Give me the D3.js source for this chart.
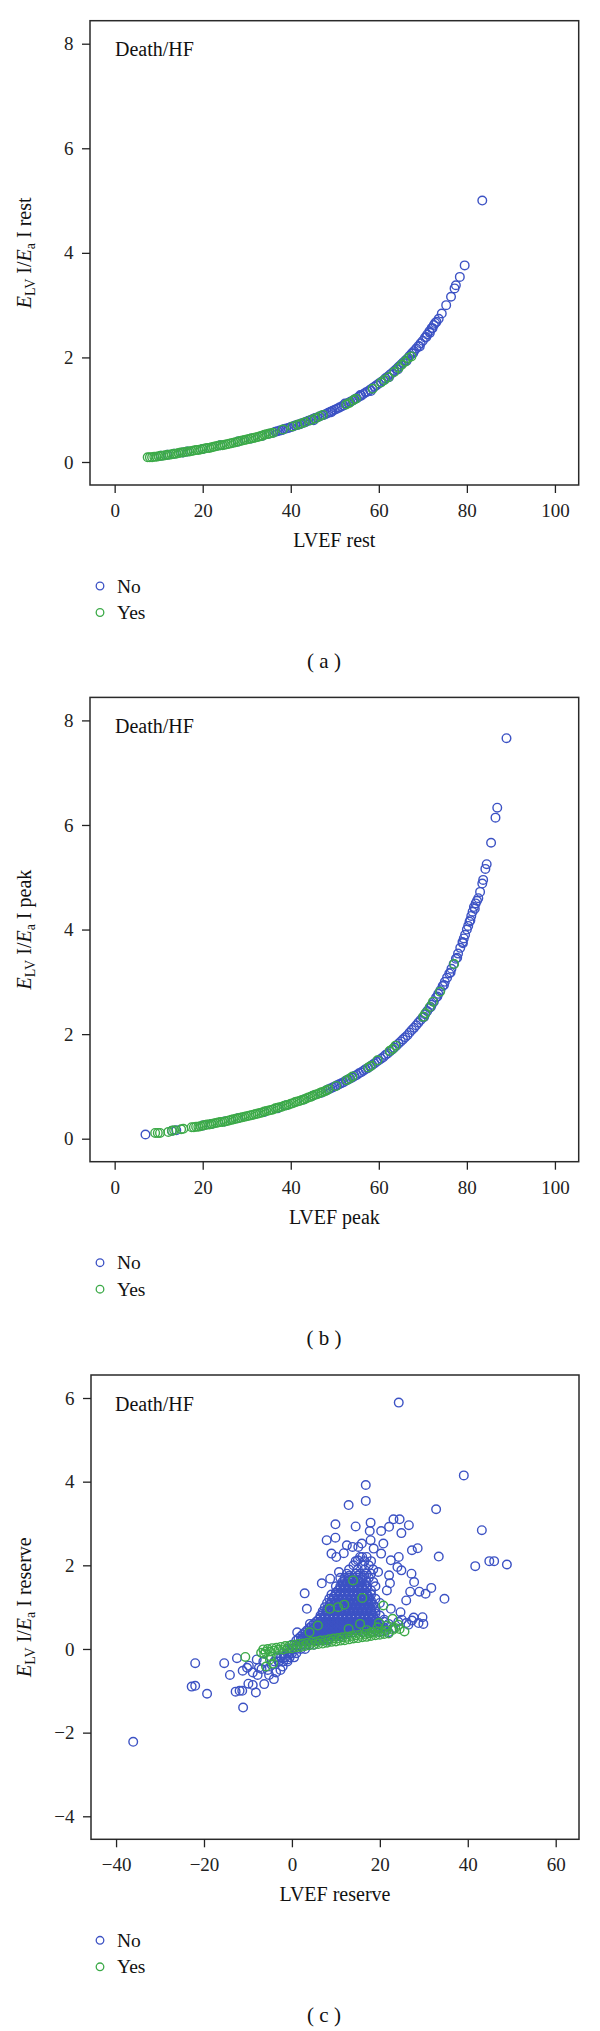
<!DOCTYPE html>
<html>
<head>
<meta charset="utf-8">
<style>
  body { margin: 0; background: #fff; }
  svg text { font-family: "Liberation Serif", "DejaVu Serif", serif; }
</style>
</head>
<body>
<svg id="chart" width="600" height="2031"></svg>

<script src="https://d3js.org/d3.v7.min.js"></script>
<script>
  // ---- data ----
  const groups = ["No", "Yes"];
  const colors = { No: "#3c52c4", Yes: "#3caa48" };
  const panelLetters = ["a", "b", "c"];
  const xTitles = ["LVEF rest", "LVEF peak", "LVEF reserve"];
  const yTitleSuffix = ["rest", "peak", "reserve"];
  const xTicksEF = [0, 20, 40, 60, 80, 100];
  const yTicksEF = [0, 2, 4, 6, 8];
  const xTicksReserve = [-40, -20, 0, 20, 40, 60];
  const yTicksReserve = [-4, -2, 0, 2, 4, 6];

  // (a) LVEF rest vs Ees/Ea rest
  const restNo = [
    [10.5,0.12],[12,0.14],[13.5,0.16],[15.5,0.18],[16.5,0.2],[20,0.25],[24,0.32],[28,0.39],[31,0.45],[33.5,0.5],[35,0.54],
    [36,0.56],[36.5,0.58],[37,0.59],[37.5,0.6],[38,0.61],[38.5,0.63],[39,0.64],[39.5,0.65],[40,0.67],[40.5,0.68],
    [41,0.7],[41.5,0.71],[42,0.72],[42.5,0.74],[43,0.75],[43.5,0.77],[44,0.79],[44.5,0.8],[45,0.82],[45.5,0.84],
    [46,0.85],[46.5,0.87],[47,0.89],[47.5,0.9],[48,0.92],[48.5,0.94],[49,0.96],[49.5,0.98],[50,1.0],[50.5,1.02],
    [51,1.04],[51.5,1.06],[52,1.08],[52.5,1.11],[53,1.13],[53.5,1.15],[54,1.17],[54.5,1.2],[55,1.22],[55.5,1.25],
    [56,1.27],[56.5,1.3],[57,1.33],[57.5,1.35],[58,1.38],[58.5,1.41],[59,1.44],[59.5,1.47],[60,1.5],[60.5,1.53],
    [61,1.56],[61.5,1.6],[62,1.63],[62.5,1.67],[63,1.7],[63.5,1.74],[64,1.78],[64.5,1.82],[65,1.86],[65.5,1.9],
    [66,1.94],[66.5,1.98],[67,2.03],[67.5,2.08],[68,2.12],[68.5,2.17],[69,2.22],[69.5,2.27],[70,2.32],[70.5,2.38],
    [71,2.44],[71.5,2.5],[72,2.56],[72.5,2.62],
    [62.3,1.62],[64.3,1.77],[66.3,1.93],[67.8,2.08],[69.3,2.21],[70.8,2.39],[71.6,2.47],[72.2,2.56],[72.8,2.66],
    [45.2,0.8],[52.3,1.12],[58.2,1.36],[55.8,1.28],[49.2,0.95],
    [73.1,2.68],[73.6,2.74],[74.3,2.84],[75.3,3.0],[76.4,3.16],[77.2,3.32],[77.5,3.38],[78.4,3.54],[79.5,3.76],[83.5,5.0]
  ];
  const restYes = [
    [7.5,0.09],[8,0.09],[8.5,0.09],[9,0.1],[9.5,0.1],[10,0.11],[10.5,0.12],[11,0.12],[11.5,0.13],[12,0.14],[12.5,0.14],
    [13,0.15],[13.5,0.16],[14,0.16],[14.5,0.17],[15,0.18],[15.5,0.18],[16,0.19],[16.5,0.2],[17,0.2],[17.5,0.21],
    [18,0.22],[18.5,0.23],[19,0.23],[19.5,0.24],[20,0.25],[20.5,0.26],[21,0.27],[21.5,0.27],[22,0.28],[22.5,0.29],
    [23,0.3],[23.5,0.31],[24,0.32],[24.5,0.32],[25,0.33],[25.5,0.34],[26,0.35],[26.5,0.36],[27,0.37],[27.5,0.38],
    [28,0.39],[28.5,0.4],[29,0.41],[29.5,0.42],[30,0.43],[30.5,0.44],[31,0.45],[31.5,0.46],[32,0.47],[32.5,0.48],
    [33,0.49],[33.5,0.5],[34,0.52],[34.5,0.53],[35,0.54],[35.5,0.55],[36,0.56],
    [38.2,0.62],[40.4,0.68],[41.5,0.71],[42.3,0.73],[43.2,0.76],[44.5,0.8],[45.5,0.83],[46.5,0.87],[47.3,0.9],
    [52.6,1.1],[53.3,1.13],[54.2,1.18],[54.8,1.21],[58.6,1.4],[60.5,1.52],[61.3,1.57],[62.2,1.62],[63.5,1.72],
    [64.5,1.8],[65.2,1.86],[66.0,1.92],[66.7,1.99],[67.4,2.02]
  ];

  // (b) LVEF peak vs Ees/Ea peak
  const peakNo = [
    [7.0,0.08],[13,0.15],[14,0.16],[20,0.25],[22,0.28],[25,0.33],[28,0.39],[34,0.51],[37,0.58],[39,0.64],[43,0.75],[45,0.82],[47,0.88],
    [48,0.92],[48.5,0.94],[49,0.96],[49.5,0.98],[50,1.0],[50.5,1.02],[51,1.04],[51.5,1.06],[52,1.08],[52.5,1.11],
    [53,1.13],[53.5,1.15],[54,1.17],[54.5,1.2],[55,1.22],[55.5,1.25],[56,1.27],[56.5,1.3],[57,1.33],[57.5,1.35],
    [58,1.38],[58.5,1.41],[59,1.44],[59.5,1.47],[60,1.5],[60.5,1.53],[61,1.56],[61.5,1.6],[62,1.63],[62.5,1.67],
    [63,1.7],[63.5,1.74],[64,1.78],[64.5,1.82],[65,1.86],[65.5,1.9],[66,1.94],[66.5,1.98],[67,2.03],[67.5,2.08],
    [68,2.12],[68.5,2.17],[69,2.22],[69.5,2.27],[70,2.32],[70.5,2.38],[71,2.44],[71.5,2.5],[72,2.56],[72.5,2.62],
    [73,2.7],[73.5,2.77],[74,2.84],[74.5,2.92],[75,3.0],[75.5,3.08],[76,3.16],[76.5,3.25],[77,3.34],[77.5,3.44],
    [78,3.54],[78.5,3.65],[79,3.76],[79.3,3.83],[79.6,3.9],[80,4.0],[80.3,4.07],[80.6,4.15],[81,4.26],[81.3,4.34],
    [81.6,4.43],[82,4.5],[82.3,4.55],
    [70.3,2.33],[71.8,2.52],[73.3,2.72],[74.8,2.94],[76.3,3.18],[77.8,3.46],[79.1,3.74],[80.8,4.18],[81.8,4.4],
    [82.6,4.6],[83.0,4.72],[83.5,4.88],[83.7,4.95],[84.2,5.16],[84.5,5.25],[85.5,5.66],[86.5,6.14],[86.9,6.33],[89.0,7.66]
  ];
  const peakYes = [
    [9.2,0.11],[9.8,0.11],[10.3,0.11],[12.2,0.13],[13,0.15],[13.5,0.16],[15.1,0.18],[15.6,0.19],
    [17.5,0.22],[18,0.22],[18.5,0.23],[19,0.23],[19.5,0.24],[20,0.25],[20.5,0.26],[21,0.27],[21.5,0.27],[22,0.28],
    [22.5,0.29],[23,0.3],[23.5,0.31],[24,0.32],[24.5,0.32],[25,0.33],[25.5,0.34],[26,0.35],[26.5,0.36],[27,0.37],
    [27.5,0.38],[28,0.39],[28.5,0.4],[29,0.41],[29.5,0.42],[30,0.43],[30.5,0.44],[31,0.45],[31.5,0.46],[32,0.47],
    [32.5,0.48],[33,0.49],[33.5,0.5],[34,0.52],[34.5,0.53],[35,0.54],[35.5,0.55],[36,0.56],[36.5,0.58],[37,0.59],
    [37.5,0.6],[38,0.61],[38.5,0.63],[39,0.64],[39.5,0.65],[40,0.67],[40.5,0.68],[41,0.7],[41.5,0.71],[42,0.72],
    [42.5,0.74],[43,0.75],[43.5,0.77],[44,0.79],[44.5,0.8],[45,0.82],[45.5,0.84],[46,0.85],[46.5,0.87],[47,0.89],
    [47.5,0.9],[48,0.92],[48.5,0.94],
    [50.3,1.01],[52.7,1.12],[53.4,1.15],[54.0,1.19],[57.6,1.36],[58.2,1.39],[59.7,1.5],[62.5,1.68],[63.2,1.72],
    [63.8,1.78],[70.1,2.33],[70.6,2.4],[71.6,2.52],[72.3,2.62],[73.9,2.81],[77.1,3.34]
  ];

  // (c) LVEF reserve vs Ees/Ea reserve
  const reserveNo = [
    [24.3,5.89],[39.1,4.15],[16.8,3.92],[16.8,3.54],[12.9,3.44],[32.8,3.34],[9.9,2.98],[14.5,2.93],[17.9,3.02],
    [23.1,3.1],[24.5,3.1],[26.6,2.96],[43.2,2.84],[24.9,2.77],[9.9,2.66],[7.9,2.6],[20.3,2.82],[17.7,2.82],[22.1,2.92],
    [27.3,2.36],[28.6,2.41],[33.4,2.21],[41.7,1.98],[44.9,2.1],[46.0,2.1],[48.9,2.02],[34.7,1.2],[31.7,1.46],[30.4,1.32],
    [29.0,1.37],[26.9,1.37],[26.0,1.16],[27.2,1.8],[27.8,1.6],[24.9,1.88],[24.0,1.96],[29.7,0.76],[27.7,0.75],[27.3,0.68],
    [24.7,0.88],[22.5,0.96],[21.6,1.4],[22.3,1.57],[22.1,1.76],[19.6,1.84],[2.9,1.33],[6.8,1.57],[8.7,1.68],[10.7,1.84],
    [9.0,2.28],[10.1,2.2],[11.8,2.29],[12.5,2.48],[15.1,2.44],[15.9,2.52],[13.8,2.44],[15.5,2.2],[15.0,2.12],[17.9,2.6],
    [18.6,2.4],[20.8,2.52],[20.3,2.28],[22.5,2.12],[24.3,2.2],[29.9,0.6],[25.0,0.7],[26.0,0.62],[24.2,0.65],[26.5,0.58],
    [28.8,0.62],[3.4,0.96],[4.1,0.6],[1.2,0.4],
    [-36.1,-2.22],[-22.0,-0.34],[-15.4,-0.34],[-12.5,-0.22],[-14.1,-0.62],[-22.8,-0.9],[-22.0,-0.88],[-19.3,-1.07],
    [-12.8,-1.02],[-11.9,-1.0],[-11.3,-1.0],[-9.9,-0.83],[-8.9,-0.86],[-8.2,-1.04],[-11.1,-1.4],[-11.2,-0.52],[-8.9,-0.56],
    [-6.3,-0.84],[-4.1,-0.72],[-3.6,-0.56],[-2.1,-0.42],[-7.5,-0.45],[-6.5,-0.3],[-5.5,-0.5],[-9.8,-0.4],[-8.0,-0.25],
    [-10.2,-0.45],[-7.8,-0.62],[-6.9,-0.48],[-5.2,-0.62],[-4.6,-0.38],[-3.0,-0.3],[-1.8,-0.2],[-1.0,-0.25],[-0.5,-0.1],[-2.6,-0.5]
  ];
  // dense cloud of "No" points, one row per reserve level: [y, x values]
  const reserveNoRows = [
    [-0.3, [-4,-3,-2,-1]],
    [-0.2, [-3.5,-2.5,-1.5,-0.5,0.5]],
    [-0.1, [-2,-1,0,1]],
    [0.0, [-1,0,1,2,3]],
    [0.1, [0,1,2,3,4,5]],
    [0.2, [1,2,3,4,5,6,7,8]],
    [0.25, [1.5,2.5,3.5,4.5,5.5,6.5,7.5,8.5]],
    [0.3, [2,3,4,5,6,7,8,9,10,11]],
    [0.35, [2.5,3.5,4.5,5.5,6.5,7.5,8.5,9.5,10.5,11.5,12.5]],
    [0.4, [3,4,5,6,7,8,9,10,11,12,13,14,16,18,20,22]],
    [0.45, [3.5,4.5,5.5,6.5,7.5,8.5,9.5,10.5,11.5,12.5,13.5,14.5,15.5,17,19,21]],
    [0.5, [4,5,6,7,8,9,10,11,12,13,14,15,16,17,18,19,20,21,23]],
    [0.55, [4.5,5.5,6.5,7.5,8.5,9.5,10.5,11.5,12.5,13.5,14.5,15.5,16.5,17.5,18.5,19.5]],
    [0.6, [5,6,7,8,9,10,11,12,13,14,15,16,17,18,19,20,22]],
    [0.65, [5.5,6.5,7.5,8.5,9.5,10.5,11.5,12.5,13.5,14.5,15.5,16.5,17.5,18.5,19.5,21]],
    [0.7, [6,7,8,9,10,11,12,13,14,15,16,17,18,19,21]],
    [0.75, [6.5,7.5,8.5,9.5,10.5,11.5,12.5,13.5,14.5,15.5,16.5,17.5,18.5]],
    [0.8, [6.5,7.5,8.5,9.5,10.5,11.5,12.5,13.5,14.5,15.5,16.5,17.5,18.5,20]],
    [0.85, [7,8,9,10,11,12,13,14,15,16,17,18,19]],
    [0.9, [7,8,9,10,11,12,13,14,15,16,17,18,19]],
    [0.95, [8,9,10,11,12,13,14,15,16,17,18]],
    [1.0, [7.5,8.5,9.5,10.5,11.5,12.5,13.5,14.5,15.5,16.5,17.5,19]],
    [1.05, [8.5,9.5,10.5,11.5,12.5,13.5,14.5,15.5,16.5,17.5,18.5]],
    [1.1, [8,9,10,11,12,13,14,15,16,17,18,20]],
    [1.15, [9,10,11,12,13,14,15,16,17,18]],
    [1.2, [8.5,9.5,10.5,11.5,12.5,13.5,14.5,15.5,16.5,17.5,19]],
    [1.25, [9.5,10.5,11.5,12.5,13.5,14.5,15.5,16.5,17.5]],
    [1.3, [9,10,11,12,13,14,15,16,17,18]],
    [1.35, [10,11,12,13,14,15,16,17]],
    [1.4, [10.5,11.5,12.5,13.5,14.5,15.5,16.5,18]],
    [1.45, [11,12,13,14,15,16,17]],
    [1.5, [10,11,12,13,14,15,16,17,19]],
    [1.55, [11.5,12.5,13.5,14.5,15.5,16.5]],
    [1.6, [11.5,12.5,13.5,14.5,15.5,17,18.5]],
    [1.65, [12,13,14,15,16]],
    [1.7, [11,12,13,14,16,17.5]],
    [1.75, [13,15,16.5]],
    [1.8, [12.5,14.5,15.5,17,18]],
    [1.9, [13,15,16.5,18.5]],
    [2.0, [14,16,17.5]],
    [2.1, [14.5,16.5,18]],
    [2.2, [16,17]]
  ];
  const reserveYes = [
    [-7,-0.09],[-6,-0.07],[-5,-0.06],[-4,-0.04],[-3,-0.02],[-2,-0.01],[-1,0.01],[0,0.02],[1,0.04],[2,0.05],
    [3,0.07],[4,0.09],[5,0.1],[6,0.12],[7,0.13],[8,0.15],[9,0.17],[10,0.18],[11,0.2],[12,0.21],[13,0.23],
    [14,0.25],[15,0.26],[16,0.28],[17,0.29],[18,0.31],[19,0.33],[20,0.34],[21,0.36],[22,0.37],
    [-6.5,-0.01],[-5.5,0.0],[-4.5,0.02],[-3.5,0.03],[-2.5,0.05],[-1.5,0.07],[-0.5,0.08],[0.5,0.1],[1.5,0.12],
    [2.5,0.13],[3.5,0.15],[4.5,0.17],[5.5,0.18],[6.5,0.2],[7.5,0.21],[8.5,0.23],[9.5,0.25],[10.5,0.26],[11.5,0.28],
    [12.5,0.29],[13.5,0.31],[14.5,0.33],[15.5,0.34],[16.5,0.36],[17.5,0.37],[18.5,0.39],[19.5,0.41],[20.5,0.42],
    [21.5,0.44],[23,0.46],[24.5,0.48],
    [-10.6,-0.19],[-5.9,-0.42],[-6.3,-0.12],[-5.0,-0.25],[-4.3,-0.35],[-4.8,-0.18],[13.9,1.64],[16.0,1.22],[8.6,0.96],
    [10.5,1.0],[11.9,1.06],[5.9,0.56],[4.0,0.4],[12.9,0.48],[15.5,0.6],[18.1,0.4],[19.5,0.52],[20.8,1.04],[22.9,0.72],
    [25.6,0.42],[19.8,0.62],[21.5,0.55],[23.5,0.5],[17,0.45],[24.2,0.58]
  ];

  // ---- layout ----
  const frameH = 464.3;
  const panels = [
    { top: 20.7,  left: 90, right: 578.7, xDom: [-5.6, 105.4], yDom: [-0.44, 8.44],
      xTicks: xTicksEF, yTicks: yTicksEF, No: restNo, Yes: restYes },
    { top: 697.4, left: 90, right: 578.7, xDom: [-5.6, 105.4], yDom: [-0.44, 8.44],
      xTicks: xTicksEF, yTicks: yTicksEF, No: peakNo, Yes: peakYes },
    { top: 1375,  left: 91, right: 579,   xDom: [-45.7, 65.3], yDom: [-4.55, 6.55],
      xTicks: xTicksReserve, yTicks: yTicksReserve,
      No: reserveNo.concat(reserveNoRows.flatMap(r => r[1].map(v => [v, r[0]]))),
      Yes: reserveYes }
  ];

  const svg = d3.select("#chart");
  const serif = '"Liberation Serif", "DejaVu Serif", serif';

  panels.forEach((p, i) => {
    const bottom = p.top + frameH;
    const x = d3.scaleLinear().domain(p.xDom).range([p.left, p.right]);
    const y = d3.scaleLinear().domain(p.yDom).range([bottom, p.top]);
    const g = svg.append("g");

    // points, "No" first so "Yes" sits on top
    groups.forEach(k => {
      g.append("g")
        .selectAll("circle")
        .data(p[k])
        .join("circle")
        .attr("cx", d => x(d[0]))
        .attr("cy", d => y(d[1]))
        .attr("r", 4.3)
        .attr("fill", "none")
        .attr("stroke", colors[k])
        .attr("stroke-width", 1.4);
    });

    // box
    g.append("rect")
      .attr("x", p.left).attr("y", p.top)
      .attr("width", p.right - p.left).attr("height", frameH)
      .attr("fill", "none").attr("stroke", "#2a2a2a").attr("stroke-width", 1.5);

    // axes
    const xAxis = d3.axisBottom(x).tickValues(p.xTicks).tickSize(8).tickSizeOuter(0).tickPadding(10.5);
    const gx = g.append("g").attr("transform", `translate(0,${bottom})`).call(xAxis);
    const yAxis = d3.axisLeft(y).tickValues(p.yTicks).tickSize(8).tickSizeOuter(0).tickPadding(8.5);
    const gy = g.append("g").attr("transform", `translate(${p.left},0)`).call(yAxis);
    [gx, gy].forEach(a => {
      a.select(".domain").remove();
      a.attr("font-family", serif).attr("font-size", 19).attr("color", "#222");
      a.selectAll(".tick line").attr("stroke-width", 1.3);
    });

    // in-plot label
    g.append("text")
      .attr("x", 115).attr("y", p.top + 35.5)
      .attr("font-size", 20).attr("fill", "#111")
      .text("Death/HF");

    // x title
    g.append("text")
      .attr("x", (p.left + p.right) / 2).attr("y", bottom + 62)
      .attr("text-anchor", "middle").attr("font-size", 20).attr("fill", "#111")
      .text(xTitles[i]);

    // y title: E_LV I/E_a I ...
    const yt = g.append("text")
      .attr("transform", `translate(31,${(p.top + bottom) / 2}) rotate(-90)`)
      .attr("text-anchor", "middle").attr("font-size", 20).attr("fill", "#111");
    yt.append("tspan").attr("font-style", "italic").text("E");
    yt.append("tspan").attr("font-size", 14).attr("dy", 4).text("LV");
    yt.append("tspan").attr("dy", -4).text(" I/");
    yt.append("tspan").attr("font-style", "italic").text("E");
    yt.append("tspan").attr("font-size", 14).attr("dy", 4).text("a");
    yt.append("tspan").attr("dy", -4).text(" I " + yTitleSuffix[i]);

    // legend
    groups.forEach((k, j) => {
      const ly = bottom + 101 + j * 26.5;
      g.append("circle")
        .attr("cx", 100).attr("cy", ly).attr("r", 3.8)
        .attr("fill", "none").attr("stroke", colors[k]).attr("stroke-width", 1.3);
      g.append("text")
        .attr("x", 117).attr("y", ly + 6.5)
        .attr("font-size", 19.5).attr("fill", "#111")
        .text(k);
    });

    // panel letter
    g.append("text")
      .attr("x", 324).attr("y", bottom + 183)
      .attr("text-anchor", "middle")
      .attr("font-family", '"Liberation Sans", Arial, sans-serif')
      .attr("font-size", 21).attr("fill", "#111")
      .attr("xml:space", "preserve")
      .text("( " + panelLetters[i] + " )");
  });
</script>
</body>
</html>
